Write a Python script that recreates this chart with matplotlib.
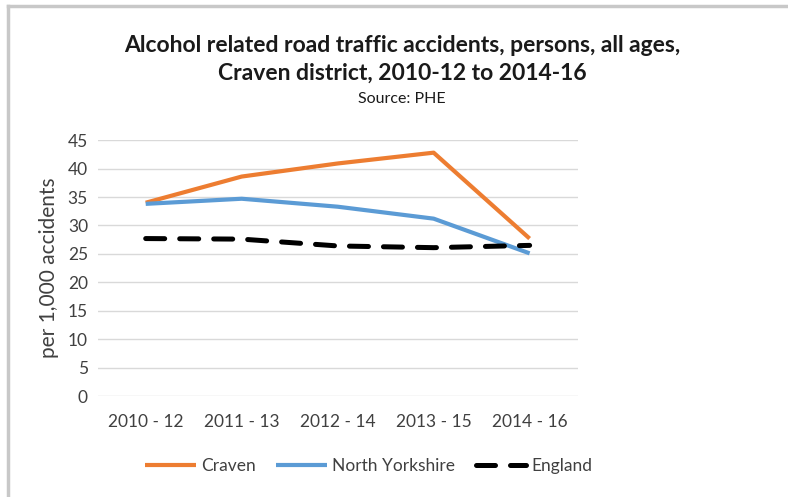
import matplotlib.pyplot as plt
from matplotlib.lines import Line2D

plt.rcParams['font.family'] = ['Lato', 'DejaVu Sans']

periods = ['2010 - 12', '2011 - 13', '2012 - 14', '2013 - 15', '2014 - 16']
craven = [34.0, 38.6, 40.9, 42.8, 27.7]
north_yorkshire = [33.8, 34.7, 33.3, 31.2, 25.1]
england = [27.7, 27.6, 26.4, 26.1, 26.5]

fig = plt.figure(figsize=(7.88, 4.97), dpi=100)
ax = fig.add_axes([0.124, 0.203, 0.609, 0.515])

x = range(len(periods))
ax.plot(x, craven, color='#ED7D31', lw=3, solid_capstyle='butt', label='Craven', zorder=3)
ax.plot(x, north_yorkshire, color='#5B9BD5', lw=3, solid_capstyle='butt', label='North Yorkshire', zorder=3)
ax.plot(x, england, color='black', lw=3.6, dashes=(3.8, 3.0), dash_capstyle='round',
        label='England', zorder=4)

ax.set_xlim(-0.5, len(periods) - 0.5)
ax.set_ylim(0, 45)
ax.set_yticks(range(0, 46, 5))
ax.set_xticks(list(x))
ax.set_xticklabels(periods)
ax.tick_params(axis='both', length=0, labelsize=12.5, colors='#404040', pad=7)
ax.tick_params(axis='x', pad=13)
ax.grid(axis='y', color='#d9d9d9', lw=1)
ax.set_axisbelow(True)
for s in ax.spines.values():
    s.set_visible(False)
ax.set_ylabel('per 1,000 accidents', fontsize=15, color='#404040', labelpad=6)

fig.text(0.51, 0.908, 'Alcohol related road traffic accidents, persons, all ages,',
         ha='center', va='center', fontsize=16.5, fontweight='bold', color='#1a1a1a')
fig.text(0.51, 0.853, 'Craven district, 2010-12 to 2014-16',
         ha='center', va='center', fontsize=16.5, fontweight='bold', color='#1a1a1a')
fig.text(0.51, 0.8, 'Source: PHE', ha='center', va='center', fontsize=11.5, color='#1a1a1a')

leg = fig.legend(loc='center', bbox_to_anchor=(0.468, 0.062), ncol=3, frameon=False,
                 fontsize=12.5, handlelength=2.9, handletextpad=0.3, columnspacing=1.2,
                 labelcolor='#404040')

# thin grey frame along the top and left edges
fig.add_artist(Line2D([0.01, 1.0], [0.988, 0.988], color='#c8c8c8', lw=2.5,
                      transform=fig.transFigure))
fig.add_artist(Line2D([0.01, 0.01], [0.0, 0.988], color='#c8c8c8', lw=2.5,
                      transform=fig.transFigure))

fig.savefig('out.png', dpi=100)
